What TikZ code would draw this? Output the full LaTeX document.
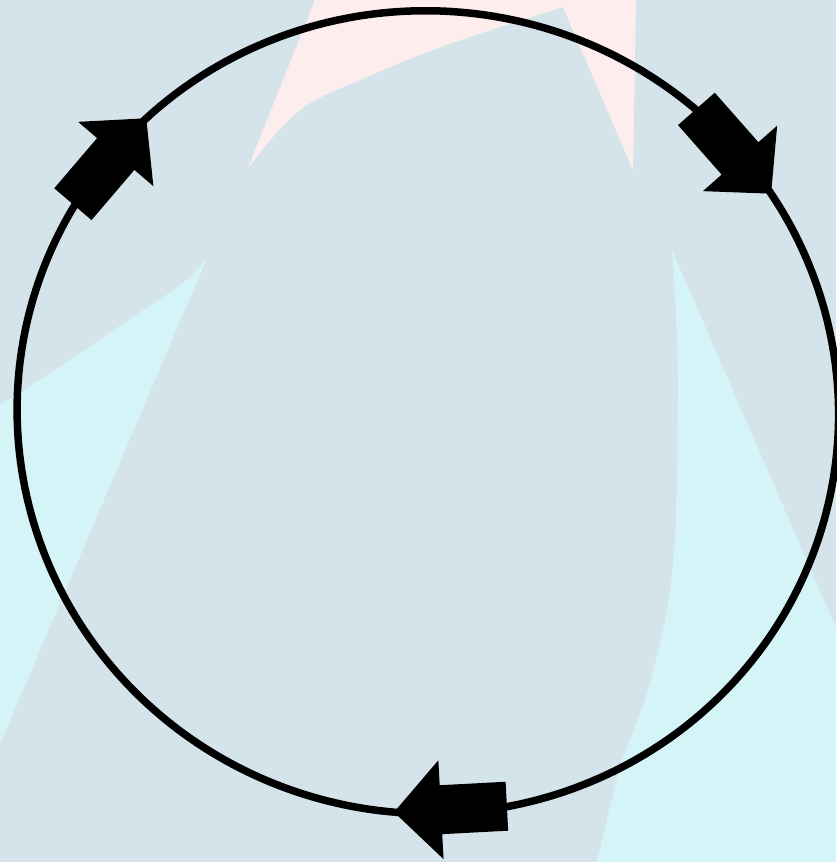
\documentclass[tikz,border=0pt]{standalone}
\definecolor{bgbase}{HTML}{D4E4EA}
\definecolor{raycyan}{HTML}{D5F4F7}
\definecolor{raypink}{HTML}{FDEDEC}
\tikzset{
  ring/.style={line width=7.5pt, black},
  fatarrow/.pic={\fill[black] (0,0) -- (-47,49.5) -- (-47,24.5) -- (-113,24.5) -- (-113,-24.5) -- (-47,-24.5) -- (-47,-49.5) -- cycle;},
  declare function={
    rf(\t)=1.0015+0.0094*cos(\t)+0.003*sin(\t)+0.0028*cos(2*\t)+0.003*sin(2*\t);
    ringx(\t)=424+409*rf(\t)*cos(\t);
    ringy(\t)=411+402*rf(\t)*sin(\t);
  }
}
\begin{document}
\begin{tikzpicture}[x=1pt,y=-1pt]
\useasboundingbox (0,0) rectangle (836,862);
% background
\fill[bgbase] (0,0) rectangle (836,862);
\fill[raypink] (315,0) -- (248,168) -- plot[smooth, tension=0.6] coordinates {(248,168) (300,110) (367,77) (433,50) (500,27) (563,7)} -- (633,170) -- (636,0) -- cycle;
\fill[raycyan] (207,258) -- plot[smooth] coordinates {(207,258) (183,283) (133,317) (67,362) (0,405)} -- (0,744) -- cycle;
\fill[raycyan] (672,250) -- (836,628) -- (836,862) -- (597,862) -- plot[smooth] coordinates {(597,862) (620,767) (645,700) (665,620) (675,538) (678,370) (672,250)} -- cycle;
% cycle points on the ring
\coordinate (A) at ({ringx(227)},{ringy(227)});
\coordinate (B) at ({ringx(327.5)},{ringy(327.5)});
\coordinate (C) at ({ringx(94.2)},{ringy(94.2)});
% ring connectors A -> B -> C -> A
\draw[ring] (A) -- plot[domain=227:327.5, samples=60, smooth] ({ringx(\x)},{ringy(\x)}) -- (B);
\draw[ring] (B) -- plot[domain=327.5:454.2, samples=70, smooth] ({ringx(\x)},{ringy(\x)}) -- (C);
\draw[ring] (C) -- plot[domain=94.2:227, samples=70, smooth] ({ringx(\x)},{ringy(\x)}) -- (A);
% arrow heads
\pic (arrA) [rotate=49.5] at (A) {fatarrow};
\pic (arrB) [rotate=-48.6] at (B) {fatarrow};
\pic (arrC) [rotate=183] at (C) {fatarrow};
\end{tikzpicture}
\end{document}
